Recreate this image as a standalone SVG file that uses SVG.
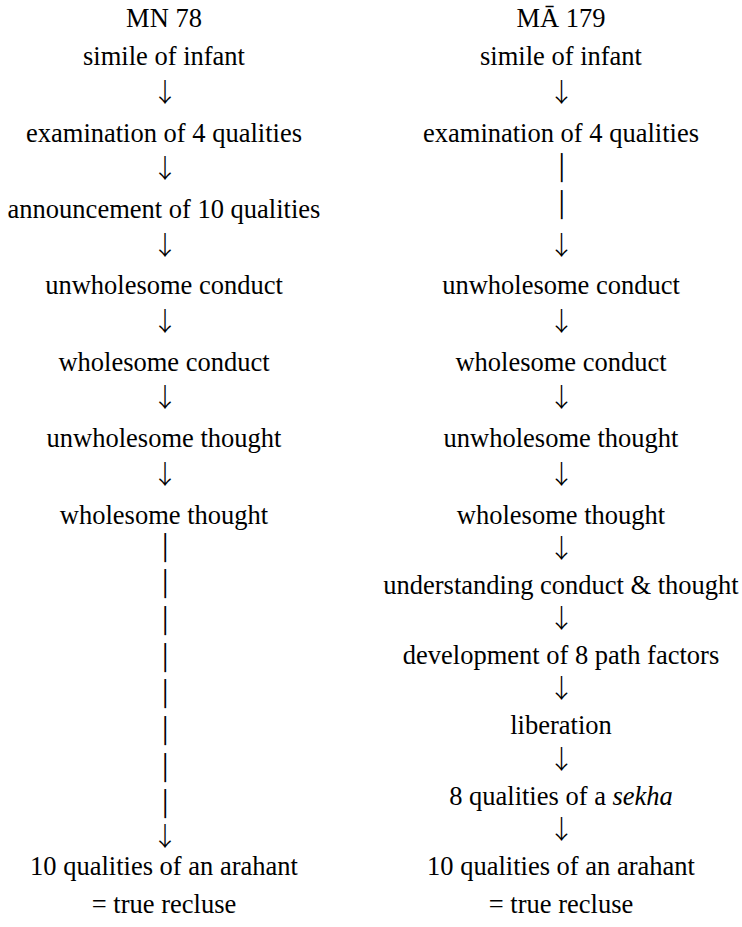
<svg xmlns="http://www.w3.org/2000/svg" width="742" height="927" viewBox="0 0 742 927">
<style>
text{font-family:"Liberation Serif","Times New Roman",serif;font-size:26.5px;fill:#000;text-anchor:middle}
.it{font-style:italic}
.ar{font-family:"Noto Sans CJK JP","Noto Sans CJK SC",sans-serif;font-size:26px;font-weight:300}
.br{font-size:24px}
</style>
<rect width="742" height="927" fill="#fff"/>
<g id="col-left">
<g id="L0"><text x="164" y="27">MN 78</text></g>
<g id="L1"><text x="164" y="65.2">simile of infant</text></g>
<g id="L3"><text x="164" y="141.6">examination of 4 qualities</text></g>
<g id="L5"><text x="164" y="218">announcement of 10 qualities</text></g>
<g id="L7"><text x="164" y="294.4">unwholesome conduct</text></g>
<g id="L9"><text x="164" y="370.8">wholesome conduct</text></g>
<g id="L11"><text x="164" y="447.2">unwholesome thought</text></g>
<g id="L13"><text x="164" y="523.6">wholesome thought</text></g>
<g id="L23"><text x="164" y="875">10 qualities of an arahant</text><text x="164" y="913">= true recluse</text></g>
</g>
<g id="col-right">
<g id="R0"><text x="561" y="27">MĀ 179</text></g>
<g id="R1"><text x="561" y="65.2">simile of infant</text></g>
<g id="R3"><text x="561" y="141.6">examination of 4 qualities</text></g>
<g id="R7"><text x="561" y="294.4">unwholesome conduct</text></g>
<g id="R9"><text x="561" y="370.8">wholesome conduct</text></g>
<g id="R11"><text x="561" y="447.2">unwholesome thought</text></g>
<g id="R13"><text x="561" y="523.6">wholesome thought</text></g>
<g id="R15"><text x="561" y="593.9">understanding conduct &amp; thought</text></g>
<g id="R17"><text x="561" y="664.2">development of 8 path factors</text></g>
<g id="R19"><text x="561" y="734.4">liberation</text></g>
<g id="R21"><text x="561" y="804.7">8 qualities of a <tspan class="it">sekha</tspan></text></g>
<g id="R23"><text x="561" y="875">10 qualities of an arahant</text><text x="561" y="913">= true recluse</text></g>
</g>
<g id="connectors">
<text class="ar" x="165" y="101.5">↓</text>
<text class="ar" x="165" y="178">↓</text>
<text class="ar" x="165" y="254.5">↓</text>
<text class="ar" x="165" y="330.5">↓</text>
<text class="ar" x="165" y="407">↓</text>
<text class="ar" x="165" y="483.5">↓</text>
<text class="br" x="165" y="554.5">│</text>
<text class="br" x="165" y="591.2">│</text>
<text class="br" x="165" y="627.9">│</text>
<text class="br" x="165" y="664.6">│</text>
<text class="br" x="165" y="701.3">│</text>
<text class="br" x="165" y="738">│</text>
<text class="br" x="165" y="774.7">│</text>
<text class="br" x="165" y="811.4">│</text>
<text class="ar" x="165" y="845.5">↓</text>
<text class="ar" x="561.5" y="101.5">↓</text>
<text class="br" x="561.5" y="174.5">│</text>
<text class="br" x="561.5" y="211.5">│</text>
<text class="ar" x="561.5" y="254.5">↓</text>
<text class="ar" x="561.5" y="330.5">↓</text>
<text class="ar" x="561.5" y="407">↓</text>
<text class="ar" x="561.5" y="483.5">↓</text>
<text class="ar" x="561.5" y="557.5">↓</text>
<text class="ar" x="561.5" y="628">↓</text>
<text class="ar" x="561.5" y="698">↓</text>
<text class="ar" x="561.5" y="768.5">↓</text>
<text class="ar" x="561.5" y="838.5">↓</text>
</g>
</svg>
